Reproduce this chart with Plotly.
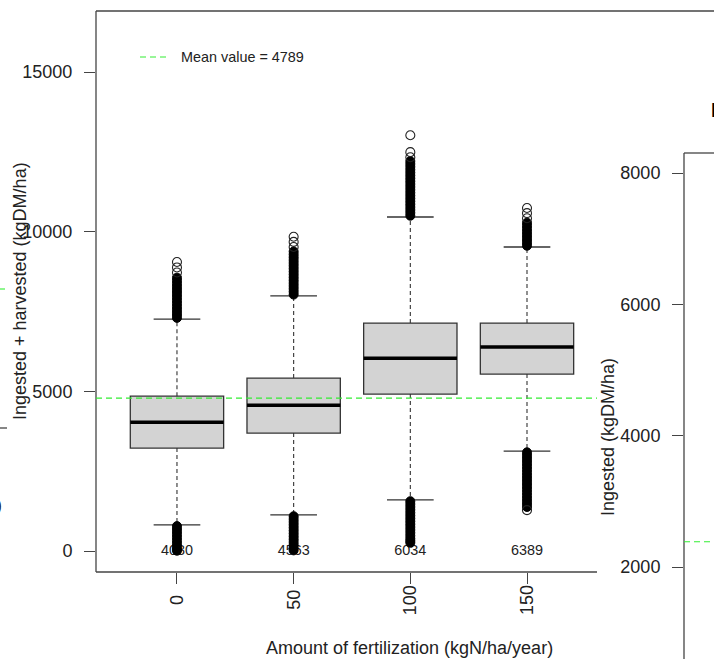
import plotly.graph_objects as go

# ---------------- data ----------------
categories = ["0", "50", "100", "150"]          # fertilization (kgN/ha/year)
positions = [1, 2, 3, 4]
q1 = [3225, 3694, 4915, 5542]
median = [4030, 4563, 6034, 6389]
q3 = [4850, 5416, 7138, 7138]
whisker_hi = [7260, 7990, 10460, 9520]
whisker_lo = [820, 1130, 1600, 3130]
median_labels = ["4030", "4563", "6034", "6389"]
mean_value = 4789

# outliers; dense runs appear as solid columns
out_dense_0 = [7300, 7390, 7480, 7570, 7660, 7750, 7840, 7930, 8020, 8110, 8200, 8290, 8380, 8470, 8560,
               780, 690, 600, 510, 420, 330, 240, 150, 60, 10]
out_sparse_0 = [8720, 8880, 9050]
out_dense_1 = [8030, 8120, 8210, 8300, 8390, 8480, 8570, 8660, 8750, 8840, 8930, 9020, 9110, 9200, 9290, 9380,
               1090, 1000, 910, 820, 730, 640, 550, 460, 370, 280, 190, 100, 20]
out_sparse_1 = [9520, 9680, 9840]
out_dense_2 = [10500, 10590, 10680, 10770, 10860, 10950, 11040, 11130, 11220, 11310, 11400, 11490, 11580,
               11670, 11760, 11850, 11940, 12030, 12120, 12210,
               1560, 1470, 1380, 1290, 1200, 1110, 1020, 930, 840, 750, 660, 570, 480, 390, 320, 260]
out_sparse_2 = [12330, 12490, 13020]
out_dense_3 = [9560, 9650, 9740, 9830, 9920, 10010, 10100, 10190, 10280,
               3090, 3000, 2910, 2820, 2730, 2640, 2550, 2460, 2370, 2280, 2190, 2100, 2010, 1920, 1830,
               1740, 1650, 1560, 1470, 1380]
out_sparse_3 = [10420, 10580, 10740, 1280]
outliers_dense = [out_dense_0, out_dense_1, out_dense_2, out_dense_3]
outliers_sparse = [out_sparse_0, out_sparse_1, out_sparse_2, out_sparse_3]

y_ticks_main = [0, 5000, 10000, 15000]
y_ticks_right = [2000, 4000, 6000, 8000]
ingested_mean = 2385

# ---------------- layout helpers ----------------
W, H = 714, 659
def px(x):
    return x / W
def py(y):
    return 1 - y / H

FONT = "Liberation Sans, Arial, Helvetica, sans-serif"
INK = "#222222"
LINE = "#444444"
GREEN = "#33ee33"

fig = go.Figure()

# box bodies
fig.add_trace(go.Bar(
    x=positions, y=[b - a for a, b in zip(q1, q3)], base=q1, width=0.8,
    marker=dict(color="#D3D3D3", line=dict(color="#333333", width=1.3)),
    xaxis="x", yaxis="y", hoverinfo="skip"))

# dashed whiskers
wx, wy = [], []
for p, a, b, lo, hi in zip(positions, q1, q3, whisker_lo, whisker_hi):
    wx += [p, p, None, p, p, None]
    wy += [b, hi, None, a, lo, None]
fig.add_trace(go.Scatter(x=wx, y=wy, mode="lines",
                         line=dict(color="#333333", width=1.1, dash="4px,3px"), hoverinfo="skip"))

# staples
sx, sy = [], []
for p, lo, hi in zip(positions, whisker_lo, whisker_hi):
    sx += [p - 0.2, p + 0.2, None, p - 0.2, p + 0.2, None]
    sy += [hi, hi, None, lo, lo, None]
fig.add_trace(go.Scatter(x=sx, y=sy, mode="lines",
                         line=dict(color="#333333", width=1.3), hoverinfo="skip"))

# medians
mx, my = [], []
for p, m in zip(positions, median):
    mx += [p - 0.4, p + 0.4, None]
    my += [m, m, None]
fig.add_trace(go.Scatter(x=mx, y=my, mode="lines",
                         line=dict(color="#000000", width=3.5), hoverinfo="skip"))

# median value labels
fig.add_trace(go.Scatter(x=positions, y=[0] * 4, mode="text", text=median_labels,
                         textfont=dict(family=FONT, size=14.4, color=INK), hoverinfo="skip"))

# outliers
for p, dense, sparse in zip(positions, outliers_dense, outliers_sparse):
    fig.add_trace(go.Scatter(x=[p] * len(dense), y=dense, mode="markers",
                             marker=dict(symbol="circle", size=9, color="#000000",
                                         line=dict(color="#000000", width=1)), hoverinfo="skip"))
    fig.add_trace(go.Scatter(x=[p] * len(sparse), y=sparse, mode="markers",
                             marker=dict(symbol="circle-open", size=9, color="#222222",
                                         line=dict(width=1.1)), hoverinfo="skip"))

# right panel placeholder trace (keeps axes alive)
fig.add_trace(go.Scatter(x=[0.5], y=[ingested_mean], mode="markers", marker=dict(opacity=0),
                         xaxis="x2", yaxis="y2", hoverinfo="skip"))

axis_common = dict(showgrid=False, zeroline=False, showline=False, ticks="outside",
                   ticklen=11, tickcolor=LINE, tickwidth=1.2,
                   tickfont=dict(family=FONT, size=18, color=INK))

fig.update_layout(
    width=W, height=H, autosize=False,
    margin=dict(l=0, r=0, t=0, b=0),
    paper_bgcolor="white", plot_bgcolor="white",
    showlegend=False,
    font=dict(family=FONT, size=18, color=INK),
    xaxis=dict(domain=[px(96), px(597)], range=[0.306, 4.6], tickvals=positions,
               showticklabels=False, anchor="y", **axis_common),
    yaxis=dict(domain=[py(572), py(11)], range=[-657, 16910], tickvals=y_ticks_main,
               ticktext=[str(v) for v in y_ticks_main], ticklabelstandoff=8,
               anchor="x", **axis_common),
    xaxis2=dict(domain=[px(684), 1], range=[0, 1], visible=False, anchor="y2"),
    yaxis2=dict(domain=[0, py(153)], range=[599, 8305], tickvals=y_ticks_right,
                ticktext=[str(v) for v in y_ticks_right], ticklabelstandoff=8,
                anchor="x2", **axis_common),
)

shapes = []
def seg(x0, y0, x1, y1, color=LINE, width=1.3, dash=None):
    d = dict(type="line", xref="paper", yref="paper", x0=px(x0), y0=py(y0), x1=px(x1), y1=py(y1),
             line=dict(color=color, width=width))
    if dash:
        d["line"]["dash"] = dash
    shapes.append(d)

# main panel frame (right side hidden by the neighbouring panel)
seg(96, 11, 96, 572)
seg(96, 572, 597, 572)
seg(96, 11, 714, 11)
# right panel frame
seg(684, 153, 684, 659)
seg(684, 153, 714, 153)
# left-edge fragments of a neighbouring panel
seg(0, 289, 5, 289, color=GREEN, width=1.1)
seg(0, 428, 7, 428, color=LINE, width=1.3)
# legend sample
seg(140, 57, 166, 57, color=GREEN, width=1.1, dash="6px,4px")

# mean lines
shapes.append(dict(type="line", xref="x domain", yref="y", x0=0, x1=1, y0=mean_value, y1=mean_value,
                   line=dict(color=GREEN, width=1.1, dash="6px,4px")))
shapes.append(dict(type="line", xref="x2 domain", yref="y2", x0=0, x1=1, y0=ingested_mean, y1=ingested_mean,
                   line=dict(color=GREEN, width=1.1, dash="6px,4px")))
fig.update_layout(shapes=shapes)

ann = []
# rotated x tick labels
for p, c in zip(positions, categories):
    ann.append(dict(x=p, y=py(600), xref="x", yref="paper", text=c, showarrow=False, textangle=-90,
                    xanchor="center", yanchor="middle", font=dict(family=FONT, size=18, color=INK)))
ann.append(dict(x=px(410), y=py(648), xref="paper", yref="paper", text="Amount of fertilization (kgN/ha/year)",
                showarrow=False, xanchor="center", yanchor="middle", font=dict(family=FONT, size=18, color=INK)))
ann.append(dict(x=px(20), y=py(291), xref="paper", yref="paper", text="Ingested + harvested (kgDM/ha)",
                showarrow=False, textangle=-90, xanchor="center", yanchor="middle",
                font=dict(family=FONT, size=18, color=INK)))
ann.append(dict(x=px(608), y=py(437), xref="paper", yref="paper", text="Ingested (kgDM/ha)",
                showarrow=False, textangle=-90, xanchor="center", yanchor="middle",
                font=dict(family=FONT, size=18, color=INK)))
ann.append(dict(x=px(179), y=py(57), xref="paper", yref="paper", text=f"Mean value = {mean_value}",
                showarrow=False, xanchor="left", yanchor="middle", font=dict(family=FONT, size=14.4, color=INK)))
# clipped fragments at the edges
ann.append(dict(x=px(708.5), y=py(110), xref="paper", yref="paper", text="<b>I</b>",
                showarrow=False, xanchor="left", yanchor="middle", font=dict(family=FONT, size=20, color="#000000")))
ann.append(dict(x=px(4), y=py(505), xref="paper", yref="paper", text=")",
                showarrow=False, xanchor="right", yanchor="middle", font=dict(family=FONT, size=18, color=INK)))
fig.update_layout(annotations=ann)

fig.write_html("out.html")
